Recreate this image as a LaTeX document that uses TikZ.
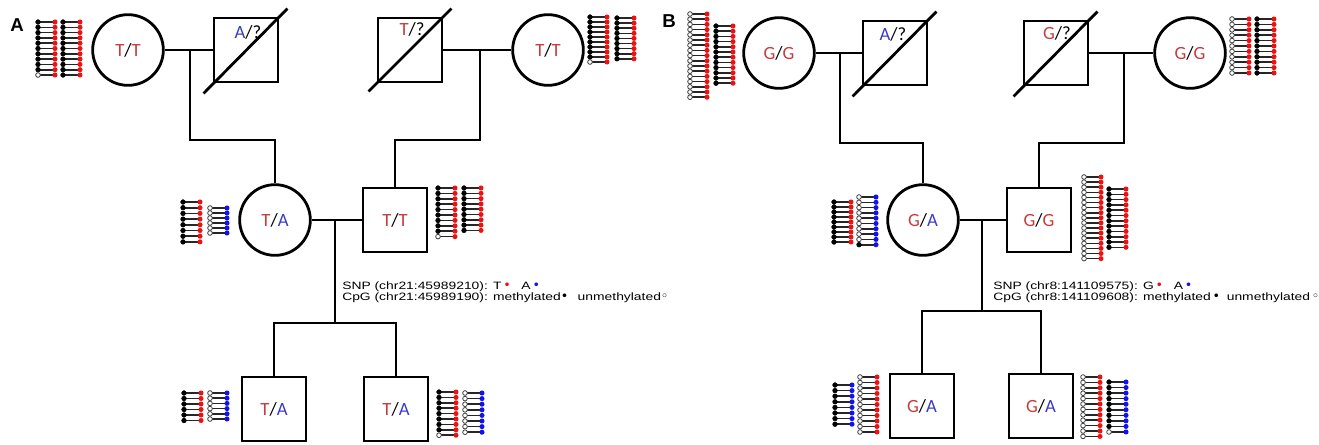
\documentclass[tikz,border=0pt]{standalone}
\usepackage{fontspec}
\usetikzlibrary{calc}
\newfontfamily\genofont{Carlito}
\newfontfamily\legfont[FakeStretch=1.3]{Liberation Sans}
\newfontfamily\panelfont{Liberation Sans}
\newfontfamily\bulfont{DejaVu Sans}
\definecolor{allT}{RGB}{198,60,60}
\definecolor{allA}{RGB}{58,58,200}
\definecolor{snpR}{RGB}{235,18,18}
\definecolor{snpB}{RGB}{18,18,235}
\newcommand\alR[1]{\textcolor{allT}{#1}}
\newcommand\alB[1]{\textcolor{allA}{#1}}
\newcommand\redbul{{\bulfont\fontsize{9.5}{9.5}\selectfont\textcolor{snpR}{•}}}
\newcommand\bluebul{{\bulfont\fontsize{9.5}{9.5}\selectfont\textcolor{snpB}{•}}}
\newcommand\blkbul{{\bulfont\fontsize{9.5}{9.5}\selectfont •}}
\newcommand\openbul{{\bulfont\fontsize{9.5}{9.5}\selectfont ◦}}
\tikzset{
  ped/.style={line width=2.1pt, draw=black},
  gfont/.style={font=\genofont\fontsize{14}{16}\selectfont},
  female/.style={ped, circle, minimum size=53pt, inner sep=0pt, gfont},
  male/.style={ped, rectangle, minimum size=48pt, inner sep=0pt, gfont},
  gtext/.style={inner sep=0pt, gfont},
  conn/.style={line width=2.1pt},
  stem/.style={line width=1.2pt, black!85},
  methyl/.style={draw=black, fill=black, line width=0.4pt},
  unmethyl/.style={draw=black!75, fill=white, line width=0.6pt},
  legend/.style={anchor=base west, inner sep=0pt, font=\legfont\fontsize{8}{9.6}\selectfont},
  panel/.style={inner sep=0pt, font=\panelfont\bfseries\fontsize{14}{16}\selectfont},
}
% one lollipop: CpG dot on the left, SNP allele dot on the right
\newcommand\lpop[4]{%
  \draw[stem] ({#1},{#2}) -- ({#1+17},{#2});
  \filldraw[#4] ({#1},{#2}) circle (1.75pt);
  \fill[#3] ({#1+17},{#2}) circle (1.9pt);}
% a column of reads: x, first row y, row gap, allele colour, rows, CpG state, CpG state of last row
\newcommand\lcol[7]{%
  \pgfmathtruncatemacro\lastrow{#5-1}%
  \foreach \i in {1,...,\lastrow}{\lpop{#1}{#2+(\i-1)*#3}{#4}{#6}}%
  \lpop{#1}{#2+\lastrow*#3}{#4}{#7}}
\begin{document}
\begin{tikzpicture}[x=0.75pt,y=-0.75pt]
\useasboundingbox (0,0) rectangle (1319,444);

% ---------------- pedigree A ----------------
\node[panel] (labA) at (17,25) {A};
\node[female] (cA1) at (128,50) {\alR{T}/\alR{T}};
\node[male] (sA1) at (246,50) {};
\node[gtext] (tA1) at (248,32) {\alB{A}/?};
\draw[ped] ($(sA1.south west)+(-9,10)$) -- ($(sA1.north east)+(8,-8)$);
\node[male] (sA2) at (410,50) {};
\node[gtext] (tA2) at (412,29) {\alR{T}/?};
\draw[ped] ($(sA2.south west)+(-8,8)$) -- ($(sA2.north east)+(8,-8)$);
\node[female] (cA2) at (548,50) {\alR{T}/\alR{T}};
\node[female] (cA3) at (275,220) {\alR{T}/\alB{A}};
\node[male] (sA3) at (395,220) {\alR{T}/\alR{T}};
\node[male] (sA4) at (274,409) {\alR{T}/\alB{A}};
\node[male] (sA5) at (396,409) {\alR{T}/\alB{A}};

\coordinate (jA1) at (190,50);
\coordinate (jA2) at (480,50);
\coordinate (hA) at (0,140);
\coordinate (jA3) at (335,220);
\coordinate (mA) at (335,323);
\draw[conn] (cA1.east) -- (sA1.west);
\draw[conn] (sA2.east) -- (cA2.west);
\draw[conn] (jA1) -- (jA1 |- hA) -| (cA3.north);
\draw[conn] (jA2) -- (jA2 |- hA) -| (sA3.north);
\draw[conn] (cA3.east) -- (sA3.west);
\draw[conn] (jA3) -- (mA);
\draw[conn] (sA4.north) |- (mA) -| (sA5.north);

\node[legend] (lgA1) at (342,289.5) {SNP (chr21:45989210): T\,\redbul\hspace{8pt}A\,\bluebul};
\node[legend] (lgA2) at (342,300.5) {CpG (chr21:45989190): methylated\blkbul\hspace{7pt}unmethylated\openbul};

\lcol{38}{22}{5.3}{snpR}{11}{methyl}{unmethyl}
\lcol{63}{22}{5.3}{snpR}{11}{methyl}{methyl}
\lcol{590}{17}{5}{snpR}{10}{methyl}{unmethyl}
\lcol{617}{18}{5.1}{snpR}{9}{methyl}{methyl}
\lcol{183}{202}{5.7}{snpR}{8}{methyl}{methyl}
\lcol{210}{208}{5}{snpB}{6}{unmethyl}{unmethyl}
\lcol{438}{188}{5.4}{snpR}{10}{methyl}{unmethyl}
\lcol{464}{188}{5.3}{snpR}{9}{methyl}{methyl}
\lcol{184}{393}{5.5}{snpR}{6}{methyl}{methyl}
\lcol{210}{393}{5.2}{snpB}{6}{unmethyl}{unmethyl}
\lcol{439}{392}{5.4}{snpR}{9}{methyl}{unmethyl}
\lcol{465}{393}{5.6}{snpB}{8}{unmethyl}{unmethyl}

% ---------------- pedigree B ----------------
\node[panel] (labB) at (669,21) {B};
\node[female] (cB1) at (779,53) {\alR{G}/\alR{G}};
\node[male] (sB1) at (895,53) {};
\node[gtext] (tB1) at (893,34) {\alB{A}/?};
\draw[ped] ($(sB1.south west)+(-9,10)$) -- ($(sB1.north east)+(8,-8)$);
\node[male] (sB2) at (1056,53) {};
\node[gtext] (tB2) at (1057,33) {\alR{G}/?};
\draw[ped] ($(sB2.south west)+(-9,10)$) -- ($(sB2.north east)+(8,-8)$);
\node[female] (cB2) at (1190,53) {\alR{G}/\alR{G}};
\node[female] (cB3) at (923,220) {\alR{G}/\alB{A}};
\node[male] (sB3) at (1039,220) {\alR{G}/\alR{G}};
\node[male] (sB4) at (922,406) {\alR{G}/\alB{A}};
\node[male] (sB5) at (1041,406) {\alR{G}/\alB{A}};

\coordinate (jB1) at (840,53);
\coordinate (jB2) at (1124,53);
\coordinate (hB) at (0,143);
\coordinate (jB3) at (982,220);
\coordinate (mB) at (982,311);
\draw[conn] (cB1.east) -- (sB1.west);
\draw[conn] (sB2.east) -- (cB2.west);
\draw[conn] (jB1) -- (jB1 |- hB) -| (cB3.north);
\draw[conn] (jB2) -- (jB2 |- hB) -| (sB3.north);
\draw[conn] (cB3.east) -- (sB3.west);
\draw[conn] (jB3) -- (mB);
\draw[conn] (sB4.north) |- (mB) -| (sB5.north);

\node[legend] (lgB1) at (993,289.5) {SNP (chr8:141109575): G\,\redbul\hspace{8pt}A\,\bluebul};
\node[legend] (lgB2) at (993,300.5) {CpG (chr8:141109608): methylated\,\blkbul\hspace{5pt}unmethylated\,\openbul};

\lcol{690}{14}{5.2}{snpR}{17}{unmethyl}{unmethyl}
\lcol{716}{26}{5.2}{snpR}{12}{methyl}{methyl}
\lcol{1232}{19}{5.4}{snpR}{11}{unmethyl}{unmethyl}
\lcol{1257}{19}{5.4}{snpR}{11}{methyl}{methyl}
\lcol{834}{202}{5}{snpR}{9}{methyl}{methyl}
\lcol{859}{197}{5.3}{snpB}{10}{unmethyl}{methyl}
\lcol{1084}{177}{5.1}{snpR}{17}{unmethyl}{unmethyl}
\lcol{1109}{189}{5.3}{snpR}{12}{methyl}{methyl}
\lcol{835}{385}{5.6}{snpB}{8}{methyl}{methyl}
\lcol{860}{377}{5.5}{snpR}{11}{unmethyl}{unmethyl}
\lcol{1083}{377}{5.4}{snpR}{12}{unmethyl}{unmethyl}
\lcol{1109}{382}{5.55}{snpB}{10}{methyl}{unmethyl}
\end{tikzpicture}
\end{document}
